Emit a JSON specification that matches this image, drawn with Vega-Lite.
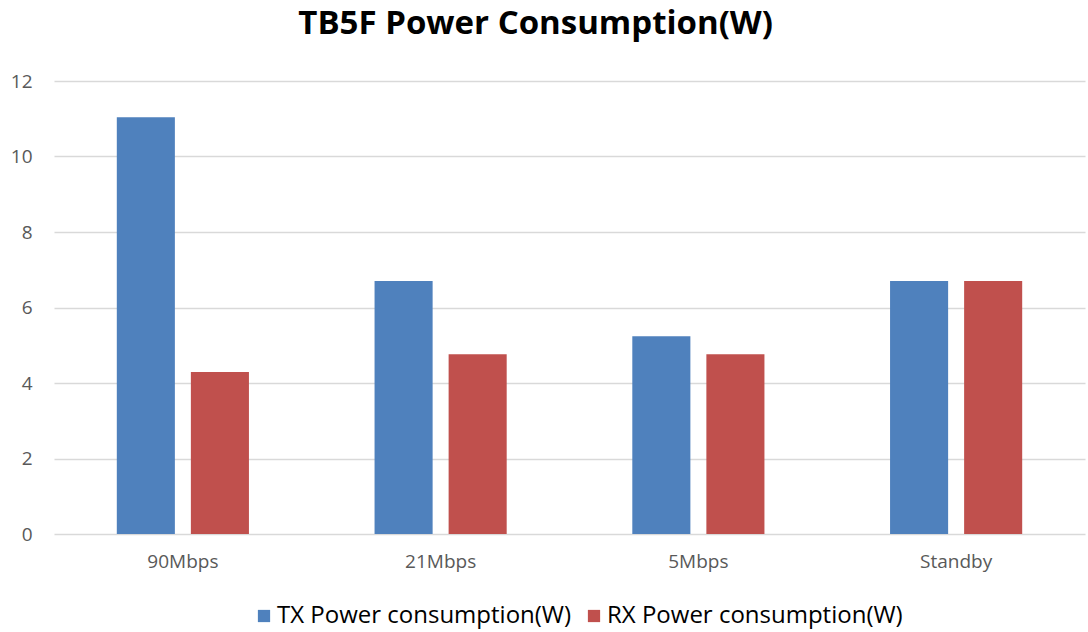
{
  "$schema": "https://vega.github.io/schema/vega-lite/v6.json",
  "autosize": {"type": "fit", "contains": "padding"},
  "width": 1088,
  "height": 632,
  "padding": {"left": 10, "right": 3, "top": 8, "bottom": 61},
  "background": "white",
  "title": {
    "text": "TB5F Power Consumption(W)",
    "font": "Open Sans",
    "fontSize": 33,
    "fontWeight": "bold",
    "color": "#000000",
    "anchor": "middle",
    "frame": "bounds",
    "dx": -12,
    "offset": 31
  },
  "data": {
    "values": [
      {"category": "90Mbps", "series": "TX Power consumption(W)", "value": 11.04},
      {"category": "90Mbps", "series": "RX Power consumption(W)", "value": 4.29},
      {"category": "21Mbps", "series": "TX Power consumption(W)", "value": 6.7},
      {"category": "21Mbps", "series": "RX Power consumption(W)", "value": 4.76},
      {"category": "5Mbps", "series": "TX Power consumption(W)", "value": 5.24},
      {"category": "5Mbps", "series": "RX Power consumption(W)", "value": 4.76},
      {"category": "Standby", "series": "TX Power consumption(W)", "value": 6.7},
      {"category": "Standby", "series": "RX Power consumption(W)", "value": 6.7}
    ]
  },
  "mark": {"type": "bar"},
  "encoding": {
    "x": {
      "field": "category",
      "type": "nominal",
      "sort": ["90Mbps", "21Mbps", "5Mbps", "Standby"],
      "scale": {"paddingInner": 0, "paddingOuter": 0},
      "axis": {
        "title": null,
        "labelAngle": 0,
        "labelFont": "Open Sans",
        "labelFontSize": 19,
        "labelColor": "#595959",
        "ticks": false,
        "domain": false,
        "labelPadding": 18
      }
    },
    "xOffset": {
      "field": "series",
      "type": "nominal",
      "sort": ["TX Power consumption(W)", "RX Power consumption(W)"],
      "scale": {"paddingInner": 0.216, "paddingOuter": 0.848}
    },
    "y": {
      "field": "value",
      "type": "quantitative",
      "scale": {"domain": [0, 12], "nice": false},
      "axis": {
        "title": null,
        "values": [0, 2, 4, 6, 8, 10, 12],
        "labelFont": "Open Sans",
        "labelFontSize": 19,
        "labelColor": "#595959",
        "ticks": false,
        "domain": false,
        "labelPadding": 22,
        "gridColor": "#D9D9D9",
        "gridWidth": 1.5
      }
    },
    "color": {
      "field": "series",
      "type": "nominal",
      "sort": ["TX Power consumption(W)", "RX Power consumption(W)"],
      "scale": {"range": ["#4F81BD", "#C0504D"]},
      "legend": {
        "title": null,
        "orient": "none",
        "legendX": 198,
        "legendY": 523,
        "padding": 0,
        "direction": "horizontal",
        "symbolType": "square",
        "symbolSize": 150,
        "labelFont": "Open Sans",
        "labelFontSize": 24,
        "labelColor": "#000000",
        "labelOffset": 1,
        "columnPadding": 10,
        "labelLimit": 400
      }
    }
  },
  "config": {
    "view": {"stroke": null}
  }
}
